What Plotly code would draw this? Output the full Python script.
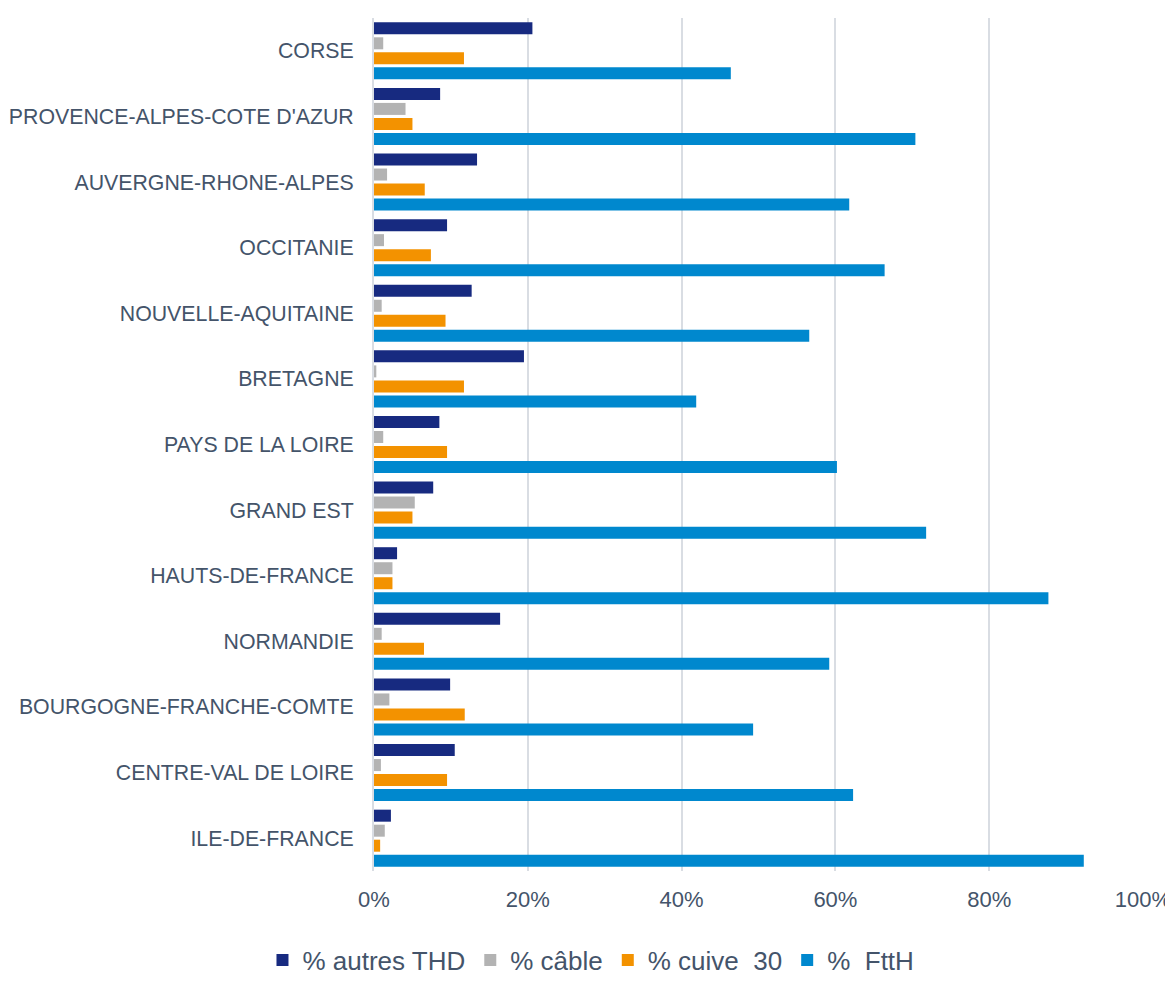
import plotly.graph_objects as go

regions = [
    "CORSE",
    "PROVENCE-ALPES-COTE D'AZUR",
    "AUVERGNE-RHONE-ALPES",
    "OCCITANIE",
    "NOUVELLE-AQUITAINE",
    "BRETAGNE",
    "PAYS DE LA LOIRE",
    "GRAND EST",
    "HAUTS-DE-FRANCE",
    "NORMANDIE",
    "BOURGOGNE-FRANCHE-COMTE",
    "CENTRE-VAL DE LOIRE",
    "ILE-DE-FRANCE",
]

autres_thd = [0.206, 0.086, 0.134, 0.095, 0.127, 0.195, 0.085, 0.077, 0.030, 0.164, 0.099, 0.105, 0.022]
cable      = [0.012, 0.041, 0.017, 0.013, 0.010, 0.003, 0.012, 0.053, 0.024, 0.010, 0.020, 0.009, 0.014]
cuivre_30  = [0.117, 0.050, 0.066, 0.074, 0.093, 0.117, 0.095, 0.050, 0.024, 0.065, 0.118, 0.095, 0.008]
ftth       = [0.464, 0.704, 0.618, 0.664, 0.566, 0.419, 0.602, 0.718, 0.877, 0.592, 0.493, 0.623, 0.923]

series_names = ["% autres THD", "% câble", "% cuive  30", "%  FttH"]
series_values = [autres_thd, cable, cuivre_30, ftth]
series_colors = ["#172A80", "#B3B3B3", "#F39200", "#0088CE"]

text_color = "#44546A"
font_family = "Liberation Sans, Arial, sans-serif"

fig = go.Figure()
for name, vals, col in zip(series_names, series_values, series_colors):
    fig.add_trace(go.Bar(
        y=regions, x=vals, name=name, orientation="h",
        marker=dict(color=col, line=dict(width=0)),
    ))

fig.update_layout(
    width=1173, height=997,
    paper_bgcolor="white", plot_bgcolor="white",
    barmode="group", bargap=0.085, bargroupgap=0.2,
    margin=dict(l=366, r=38, t=10, b=134, autoexpand=False),
    font=dict(family=font_family, size=21, color=text_color),
    legend=dict(
        orientation="h", xref="container", yref="container",
        x=0.497, xanchor="center", y=0.045, yanchor="middle",
        font=dict(size=26, color=text_color),
        itemwidth=30, traceorder="normal",
    ),
    xaxis=dict(
        range=[0, 1], dtick=0.2, tickformat=".0%",
        showgrid=True, gridcolor="#D9DDE3", gridwidth=2,
        zeroline=False, showline=False,
        ticks="", ticklabelstandoff=13,
        tickfont=dict(size=22, color=text_color),
        fixedrange=True,
    ),
    yaxis=dict(
        autorange="reversed", showgrid=False, zeroline=False,
        showline=True, linecolor="#D9DDE3", linewidth=2,
        ticks="", ticklabelstandoff=14,
        tickfont=dict(size=21.3, color=text_color),
    ),
)

fig.write_html("out.html")
